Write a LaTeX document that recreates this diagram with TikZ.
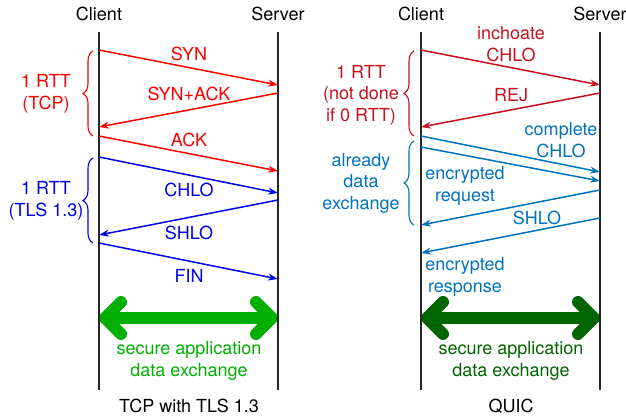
\documentclass[tikz,border=0pt]{standalone}
\usepackage{fontspec}
\setmainfont{TeX Gyre Heros}
\usetikzlibrary{arrows.meta,decorations.pathreplacing}
\definecolor{lred}{RGB}{255,0,0}
\definecolor{lblue}{RGB}{0,0,235}
\definecolor{lgreen}{RGB}{0,175,0}
\definecolor{rred}{RGB}{200,16,30}
\definecolor{rblue}{RGB}{0,114,189}
\definecolor{rgreen}{RGB}{0,100,0}
\begin{document}
\begin{tikzpicture}[x=1pt,y=-1pt,
  txt/.style={font=\fontsize{18}{21.5}\selectfont, inner sep=0pt, align=center},
  life/.style={line width=2pt, black!85},
  msg/.style={line width=1.5pt, -{Stealth[length=10pt,width=7pt]}},
  brc/.style={decorate, decoration={brace, amplitude=10pt}, line width=1.1pt},
  big/.style={line width=12pt, {Straight Barb[length=16pt,width=32pt,round]}-{Straight Barb[length=16pt,width=32pt,round]}},
]
\useasboundingbox (0,0) rectangle (626,420);

% ---------- lifelines ----------
\coordinate (c1t) at (99,32);  \coordinate (c1b) at (99,390);
\coordinate (s1t) at (278,32); \coordinate (s1b) at (278,390);
\coordinate (c2t) at (421,32); \coordinate (c2b) at (421,390);
\coordinate (s2t) at (600,32); \coordinate (s2b) at (600,390);

% ---------- big data exchange arrows ----------
\coordinate (g1a) at (99,318);  \coordinate (g1b) at (278,318);
\coordinate (g2a) at (421,318); \coordinate (g2b) at (600,318);
\draw[big, lgreen] (g1a) -- (g1b);
\draw[big, rgreen] (g2a) -- (g2b);

\draw[life] (c1t) -- (c1b);
\draw[life] (s1t) -- (s1b);
\draw[life] (c2t) -- (c2b);
\draw[life] (s2t) -- (s2b);

% ---------- headers ----------
\node[txt] (hc1) at (99,14) {Client};
\node[txt] (hs1) at (278,14) {Server};
\node[txt] (hc2) at (421,14) {Client};
\node[txt] (hs2) at (600,14) {Server};

% ---------- left: TCP + TLS 1.3 ----------
\coordinate (a1) at (99,50);   \coordinate (a2) at (278,85);
\coordinate (a3) at (278,93);  \coordinate (a4) at (99,127);
\coordinate (a5) at (99,136);  \coordinate (a6) at (278,171);
\coordinate (a7) at (99,157);  \coordinate (a8) at (278,193);
\coordinate (a9) at (278,200); \coordinate (a10) at (99,235);
\coordinate (a11) at (99,243); \coordinate (a12) at (278,279);

\draw[msg, lred] (a1) -- (a2);
\draw[msg, lred] (a3) -- (a4);
\draw[msg, lred] (a5) -- (a6);
\draw[msg, lblue] (a7) -- (a8);
\draw[msg, lblue] (a9) -- (a10);
\draw[msg, lblue] (a11) -- (a12);

\node[txt, lred] (syn) at (189,54) {SYN};
\node[txt, lred] (synack) at (189,94) {SYN+ACK};
\node[txt, lred] (ack) at (189,140) {ACK};
\node[txt, lblue] (chlo) at (189,190) {CHLO};
\node[txt, lblue] (shlo) at (189,233) {SHLO};
\node[txt, lblue] (fin) at (189,276) {FIN};

\coordinate (b1b) at (93,136); \coordinate (b1t) at (93,51);
\coordinate (b2b) at (93,243); \coordinate (b2t) at (93,158);
\draw[brc, lred] (b1b) -- (b1t);
\draw[brc, lblue] (b2b) -- (b2t);
\node[txt, lred] (rtt1) at (46,94) {1 RTT\\(TCP)};
\node[txt, lblue] (rtt2) at (46,201) {1 RTT\\(TLS 1.3)};

\node[txt, lgreen] (sec1) at (189,361) {secure application\\data exchange};
\node[txt] (tcp) at (189,406) {TCP with TLS 1.3};

% ---------- right: QUIC ----------
\coordinate (q1) at (421,50);   \coordinate (q2) at (600,85);
\coordinate (q3) at (600,93);   \coordinate (q4) at (421,127);
\coordinate (q5) at (421,136);  \coordinate (q6) at (600,172);
\coordinate (q7) at (421,147);  \coordinate (q8) at (600,181);
\coordinate (q9) at (600,190);  \coordinate (q10) at (421,225);
\coordinate (q11) at (600,218); \coordinate (q12) at (421,253);

\draw[msg, rred] (q1) -- (q2);
\draw[msg, rred] (q3) -- (q4);
\draw[msg, rblue] (q5) -- (q6);
\draw[msg, rblue] (q7) -- (q8);
\draw[msg, rblue] (q9) -- (q10);
\draw[msg, rblue] (q11) -- (q12);

\node[txt, rred] (inch) at (511,44) {inchoate\\CHLO};
\node[txt, rred] (rej) at (511,95) {REJ};
\node[txt, rblue] (comp) at (561,140) {complete\\CHLO};
\node[txt, rblue] (encreq) at (465,186) {encrypted\\request};
\node[txt, rblue] (shlo2) at (537,218) {SHLO};
\node[txt, rblue] (encresp) at (465,277) {encrypted\\response};

\coordinate (b3b) at (414,136); \coordinate (b3t) at (414,51);
\coordinate (b4b) at (414,225); \coordinate (b4t) at (414,141);
\draw[brc, rred] (b3b) -- (b3t);
\draw[brc, rblue] (b4b) -- (b4t);
\node[txt, rred] (rtt3) at (361,95) {1 RTT\\(not done\\if 0 RTT)};
\node[txt, rblue] (already) at (361,183) {already\\data\\exchange};

\node[txt, rgreen] (sec2) at (511,361) {secure application\\data exchange};
\node[txt] (quic) at (511,406) {QUIC};
\end{tikzpicture}
\end{document}
